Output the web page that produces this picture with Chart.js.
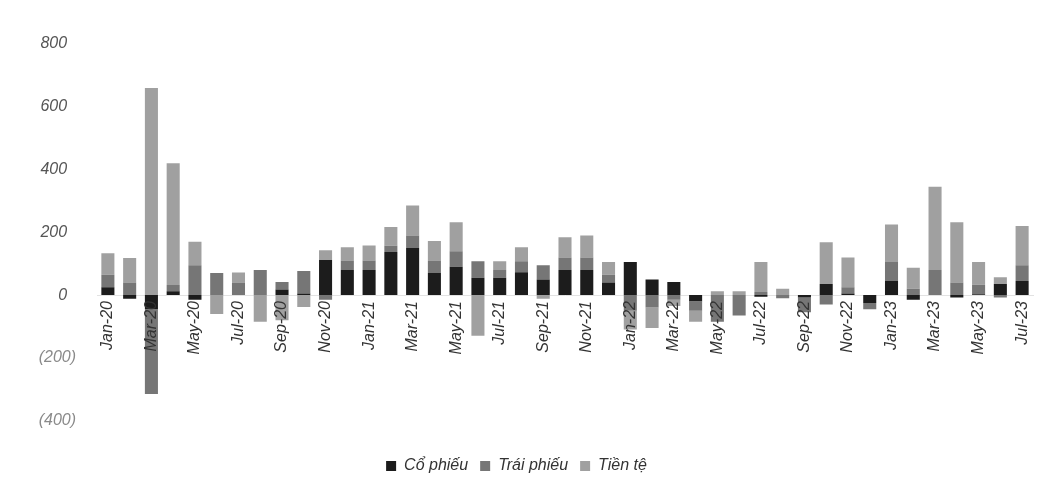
<!DOCTYPE html>
<html>
<head>
<meta charset="utf-8">
<script src="https://cdn.jsdelivr.net/npm/chart.js@4.4.0/dist/chart.umd.min.js"></script>
<style>
  html, body { margin: 0; padding: 0; background: #fff; }
  #wrap { width: 1054px; height: 499px; }
</style>
</head>
<body>
<div id="wrap"><canvas id="flows"></canvas></div>
<script>
// tháng, từ Jan-20 đến Jul-23
const months = [
  'Jan-20', 'Feb-20', 'Mar-20', 'Apr-20', 'May-20', 'Jun-20', 'Jul-20', 'Aug-20', 'Sep-20', 'Oct-20', 'Nov-20', 'Dec-20',
  'Jan-21', 'Feb-21', 'Mar-21', 'Apr-21', 'May-21', 'Jun-21', 'Jul-21', 'Aug-21', 'Sep-21', 'Oct-21', 'Nov-21', 'Dec-21',
  'Jan-22', 'Feb-22', 'Mar-22', 'Apr-22', 'May-22', 'Jun-22', 'Jul-22', 'Aug-22', 'Sep-22', 'Oct-22', 'Nov-22', 'Dec-22',
  'Jan-23', 'Feb-23', 'Mar-23', 'Apr-23', 'May-23', 'Jun-23', 'Jul-23'
];

const coPhieu = [
  25, -12, -45, 12, -15, 0, 0, 0, 18, 5, 112, 80,
  80, 137, 150, 70, 90, 55, 55, 73, 50, 80, 80, 40,
  105, 50, 42, -20, 0, 0, -5, 0, -8, 35, 5, -25,
  45, -15, 0, -8, 3, 35, 45
];

const traiPhieu = [
  40, 40, -270, 20, 95, 70, 40, 80, 24, 72, -15, 30,
  30, 20, 40, 40, 50, 53, 25, 35, 45, 40, 40, 25,
  -50, -40, -15, -30, -85, -65, 10, -10, -47, -30, 20, -20,
  60, 20, 80, 40, 30, -8, 50
];

const tienTe = [
  68, 78, 660, 388, 75, -60, 32, -85, -80, -38, 31, 42,
  48, 60, 95, 62, 92, -130, 28, 44, -12, 64, 70, 40,
  -60, -65, -20, -35, 12, 12, 95, 20, 0, 133, 95, 0,
  120, 67, 265, 192, 72, 22, 125
];

const yTicks = [-400, -200, 0, 200, 400, 600, 800];

const FONT = "'Liberation Sans Narrow', 'Liberation Sans', Arial, sans-serif";

function fmtTick(v) {
  if (v < 0) return '(' + Math.abs(v) + ')';
  return v + '  ';
}

new Chart(document.getElementById('flows'), {
  type: 'bar',
  data: {
    labels: months,
    datasets: [
      { label: 'Cổ phiếu', data: coPhieu, backgroundColor: '#1c1c1c' },
      { label: 'Trái phiếu', data: traiPhieu, backgroundColor: '#767676' },
      { label: 'Tiền tệ', data: tienTe, backgroundColor: '#a0a0a0' }
    ]
  },
  options: {
    responsive: true,
    maintainAspectRatio: false,
    animation: false,
    layout: { padding: { top: 44, right: 21, bottom: 15, left: 0 } },
    datasets: {
      bar: { categoryPercentage: 1, barPercentage: 0.6 }
    },
    plugins: {
      tooltip: { enabled: false },
      legend: {
        position: 'bottom',
        title: { display: true, text: ' ', font: { size: 2 }, padding: { top: 23, bottom: 0 } },
        labels: {
          boxWidth: 10,
          boxHeight: 10,
          padding: 12,
          color: '#333',
          font: { family: FONT, size: 16, style: 'italic' }
        }
      }
    },
    scales: {
      x: {
        stacked: true,
        position: { y: 0 },
        grid: { display: false, drawTicks: false },
        border: { display: true, color: '#e2e2e2' },
        ticks: {
          z: 1,
          autoSkip: false,
          maxRotation: 90,
          minRotation: 90,
          padding: 6,
          color: '#333',
          font: { family: FONT, size: 16, style: 'italic' },
          callback: function (val, i) {
            return i % 2 === 0 ? months[i] : '';
          }
        }
      },
      y: {
        stacked: true,
        min: -400,
        max: 800,
        afterFit: function (scale) { scale.width = 97; },
        afterBuildTicks: function (scale) {
          scale.ticks = yTicks.map(v => ({ value: v }));
        },
        grid: { display: false, drawTicks: false },
        border: { display: false },
        ticks: {
          padding: 21,
          font: { family: FONT, size: 16, style: 'italic' },
          color: function (ctx) { return ctx.tick.value < 0 ? '#8a8a8a' : '#555'; },
          callback: fmtTick
        }
      }
    }
  }
});
</script>
</body>
</html>
